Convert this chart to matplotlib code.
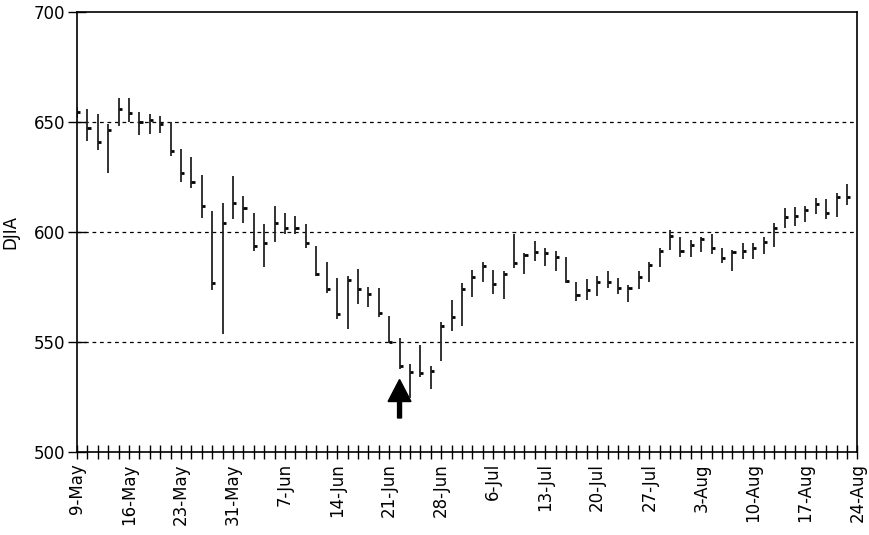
import numpy as np
import matplotlib
matplotlib.use("Agg")
import matplotlib.pyplot as plt

# daily high / low / close of the DJIA, 9-May to 24-Aug (trading days)
high = [657.0, 656.2, 653.6, 649.4, 660.8, 660.8, 654.7, 653.9, 652.7, 649.9,
        638.0, 634.4, 625.9, 609.7, 613.3, 625.5, 616.5, 608.8, 603.5, 611.8,
        608.5, 607.4, 603.5, 593.6, 586.5, 579.2, 580.0, 583.2, 575.2, 574.7,
        561.8, 551.7, 540.0, 548.6, 539.2, 559.2, 569.1, 576.7, 583.0, 586.5,
        582.7, 582.4, 599.4, 590.6, 596.0, 593.0, 591.5, 588.7, 577.2, 578.5,
        580.0, 582.4, 579.0, 575.9, 582.4, 586.5, 593.0, 601.2, 597.6, 596.4,
        597.9, 599.1, 593.0, 592.1, 595.1, 595.1, 597.6, 604.2, 610.8, 611.5,
        611.8, 615.6, 614.9, 618.0, 621.8]
low = [652.0, 641.4, 637.3, 627.0, 648.2, 650.1, 644.4, 644.8, 645.1, 634.7,
       622.9, 620.3, 606.5, 573.6, 553.5, 605.9, 604.0, 591.4, 584.0, 595.6,
       599.1, 599.0, 592.6, 580.0, 572.4, 560.5, 555.8, 567.3, 566.1, 561.5,
       549.7, 538.0, 524.4, 534.2, 528.9, 541.4, 555.0, 557.3, 570.3, 577.4,
       571.7, 569.5, 583.8, 580.8, 587.0, 584.5, 582.4, 576.7, 568.7, 569.1,
       570.9, 574.4, 571.7, 568.3, 574.1, 577.4, 584.2, 591.8, 588.5, 588.5,
       591.1, 590.3, 586.0, 582.3, 588.0, 587.6, 590.3, 593.3, 601.7, 602.7,
       604.7, 608.2, 605.8, 606.7, 612.3]
close = [654.7, 647.6, 640.8, 646.7, 655.8, 654.4, 650.1, 651.2, 649.1, 636.7,
         626.7, 622.9, 611.8, 577.0, 604.2, 613.5, 611.1, 593.6, 595.1, 604.2,
         602.1, 601.7, 595.1, 580.9, 574.0, 563.0, 578.2, 574.1, 571.8, 563.3,
         550.1, 539.2, 536.6, 536.0, 536.8, 557.3, 561.5, 574.0, 579.7, 584.5,
         576.4, 580.9, 586.2, 589.4, 590.8, 590.6, 588.7, 577.9, 571.4, 573.6,
         577.4, 577.4, 574.4, 574.7, 579.7, 585.0, 591.5, 598.2, 591.5, 594.1,
         596.7, 593.0, 588.3, 591.1, 591.5, 592.6, 595.6, 601.7, 606.7, 607.3,
         610.0, 613.0, 608.8, 615.8, 616.1]
date_labels = ['9-May', '16-May', '23-May', '31-May', '7-Jun', '14-Jun', '21-Jun',
               '28-Jun', '6-Jul', '13-Jul', '20-Jul', '27-Jul', '3-Aug', '10-Aug',
               '17-Aug', '24-Aug']
n_days = 76
arrow_day = 31

plt.rcParams['font.family'] = 'DejaVu Sans'
fig = plt.figure(figsize=(8.69, 5.35), dpi=100)
ax = fig.add_axes([0.0886, 0.155, 0.898, 0.822])

x = np.arange(len(close))
ax.vlines(x, low, high, color='#222222', linewidth=1.3)
ax.hlines(close, x, x + 0.3, color='black', linewidth=2)

# arrow pointing at the low
ax.arrow(arrow_day, 515.5, 0, 17.5, width=0.38, head_width=2.2, head_length=10,
         length_includes_head=True, color='black')

ax.set_xlim(0, n_days - 1)
ax.set_ylim(500, 700)
ax.set_yticks([500, 550, 600, 650, 700])
ax.set_xticks(np.arange(0, n_days), minor=True)
ax.set_xticks(np.arange(0, n_days, 5))
ax.set_xticklabels(date_labels, rotation=90)
ax.tick_params(axis='x', which='both', direction='inout', length=10, width=1,
               labelsize=12, pad=3)
ax.tick_params(axis='y', direction='inout', length=13, width=1, labelsize=12, pad=2)
for s in ax.spines.values():
    s.set_linewidth(1.2)

for v in [550, 600, 650]:
    ax.axhline(v, color='black', linestyle=(0, (3, 3)), linewidth=0.9, zorder=0)

ax.set_ylabel('DJIA', fontsize=12, labelpad=10)
fig.savefig('out.png', dpi=100)
